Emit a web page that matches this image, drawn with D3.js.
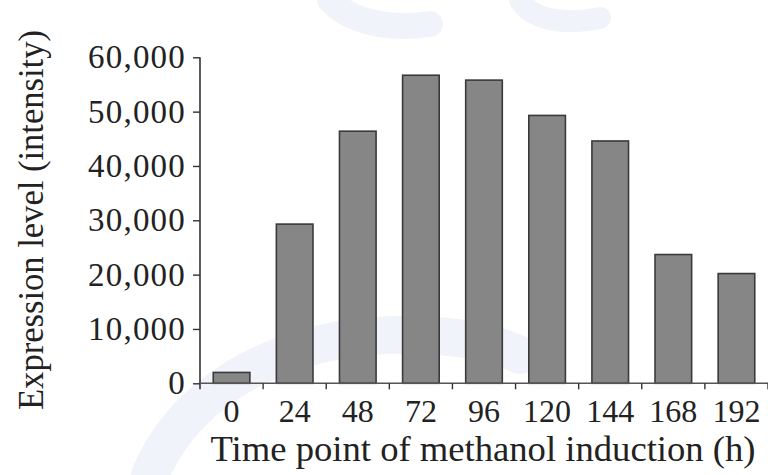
<!DOCTYPE html>
<html>
<head>
<meta charset="utf-8">
<script src="https://cdn.jsdelivr.net/npm/d3@7"></script>
<style>
  html, body { margin: 0; padding: 0; background: #ffffff; }
  svg { display: block; }
  text { font-family: "Liberation Serif", "DejaVu Serif", serif; fill: #222; }
</style>
</head>
<body>
<svg id="chart" width="768" height="475"></svg>
<script>
const categories = ["0", "24", "48", "72", "96", "120", "144", "168", "192"];
const values = [2000, 29300, 46400, 56700, 55800, 49300, 44600, 23700, 20200];
const yTicks = [0, 10000, 20000, 30000, 40000, 50000, 60000];
const xTitle = "Time point of methanol induction (h)";
const yTitle = "Expression level (intensity)";

const svg = d3.select("#chart");
const mLeft = 200, mRight = 768, mTop = 57.3, mBottom = 383.3;

// faint background watermark shapes
const wm = svg.append("g").attr("fill", "none").attr("stroke", "#f0f4fa");
wm.append("path")
  .attr("d", "M150,475 C190,380 300,330 420,335 C470,337 500,345 520,355")
  .attr("stroke-width", 38).attr("stroke-linecap", "round");
wm.append("path")
  .attr("d", "M330,0 C350,22 390,30 430,24")
  .attr("stroke-width", 26).attr("stroke-linecap", "round");
wm.append("path")
  .attr("d", "M520,0 C530,18 560,26 600,18")
  .attr("stroke-width", 22).attr("stroke-linecap", "round");

const x = d3.scaleBand().domain(categories).range([mLeft, mRight])
  .paddingInner(0.42).paddingOuter(0.21);
const y = d3.scaleLinear().domain([0, 60000]).range([mBottom, mTop]);

// bars
svg.append("g").selectAll("rect").data(values).join("rect")
  .attr("x", (d, i) => x(categories[i]))
  .attr("y", d => y(d))
  .attr("width", x.bandwidth())
  .attr("height", d => y(0) - y(d))
  .attr("fill", "#868686")
  .attr("stroke", "#3a3a3a")
  .attr("stroke-width", 1.6);

// y axis
const yAxis = svg.append("g").attr("transform", `translate(${mLeft},0)`)
  .call(d3.axisLeft(y).tickValues(yTicks).tickSize(7).tickPadding(7)
    .tickFormat(d3.format(",")));
yAxis.select(".domain").remove();
yAxis.append("line").attr("x1", 0).attr("x2", 0).attr("y1", mTop).attr("y2", mBottom + 6)
  .attr("stroke", "#333").attr("stroke-width", 1.6);
yAxis.selectAll(".tick line").attr("stroke", "#333").attr("stroke-width", 1.4);
yAxis.selectAll(".tick text").attr("font-size", 33).attr("fill", "#222")
  .attr("letter-spacing", "1.2px")
  .attr("font-family", "Liberation Serif, serif");

// x axis: labels at band centers
const xAxis = svg.append("g").attr("transform", `translate(0,${mBottom})`)
  .call(d3.axisBottom(x).tickSize(0).tickPadding(16));
xAxis.select(".domain").remove();
xAxis.selectAll(".tick text").attr("font-size", 32).attr("fill", "#222")
  .attr("font-family", "Liberation Serif, serif");
xAxis.append("line").attr("x1", mLeft).attr("x2", mRight).attr("y1", 0).attr("y2", 0)
  .attr("stroke", "#555").attr("stroke-width", 1.6);
// boundary ticks between bands
const step = x.step();
xAxis.selectAll(".btick").data(categories.slice(1).concat(["end"])).join("line")
  .attr("class", "btick")
  .attr("x1", (d, i) => mLeft + step * (i + 1))
  .attr("x2", (d, i) => mLeft + step * (i + 1))
  .attr("y1", 0).attr("y2", 6)
  .attr("stroke", "#333").attr("stroke-width", 1.4);

// titles
svg.append("text").attr("x", 483).attr("y", 461).attr("text-anchor", "middle")
  .attr("font-size", 36).attr("textLength", 545).attr("lengthAdjust", "spacingAndGlyphs")
  .text(xTitle);
svg.append("text").attr("transform", "translate(43,220) rotate(-90)")
  .attr("text-anchor", "middle").attr("font-size", 35)
  .attr("textLength", 380).attr("lengthAdjust", "spacingAndGlyphs").text(yTitle);
</script>
</body>
</html>
